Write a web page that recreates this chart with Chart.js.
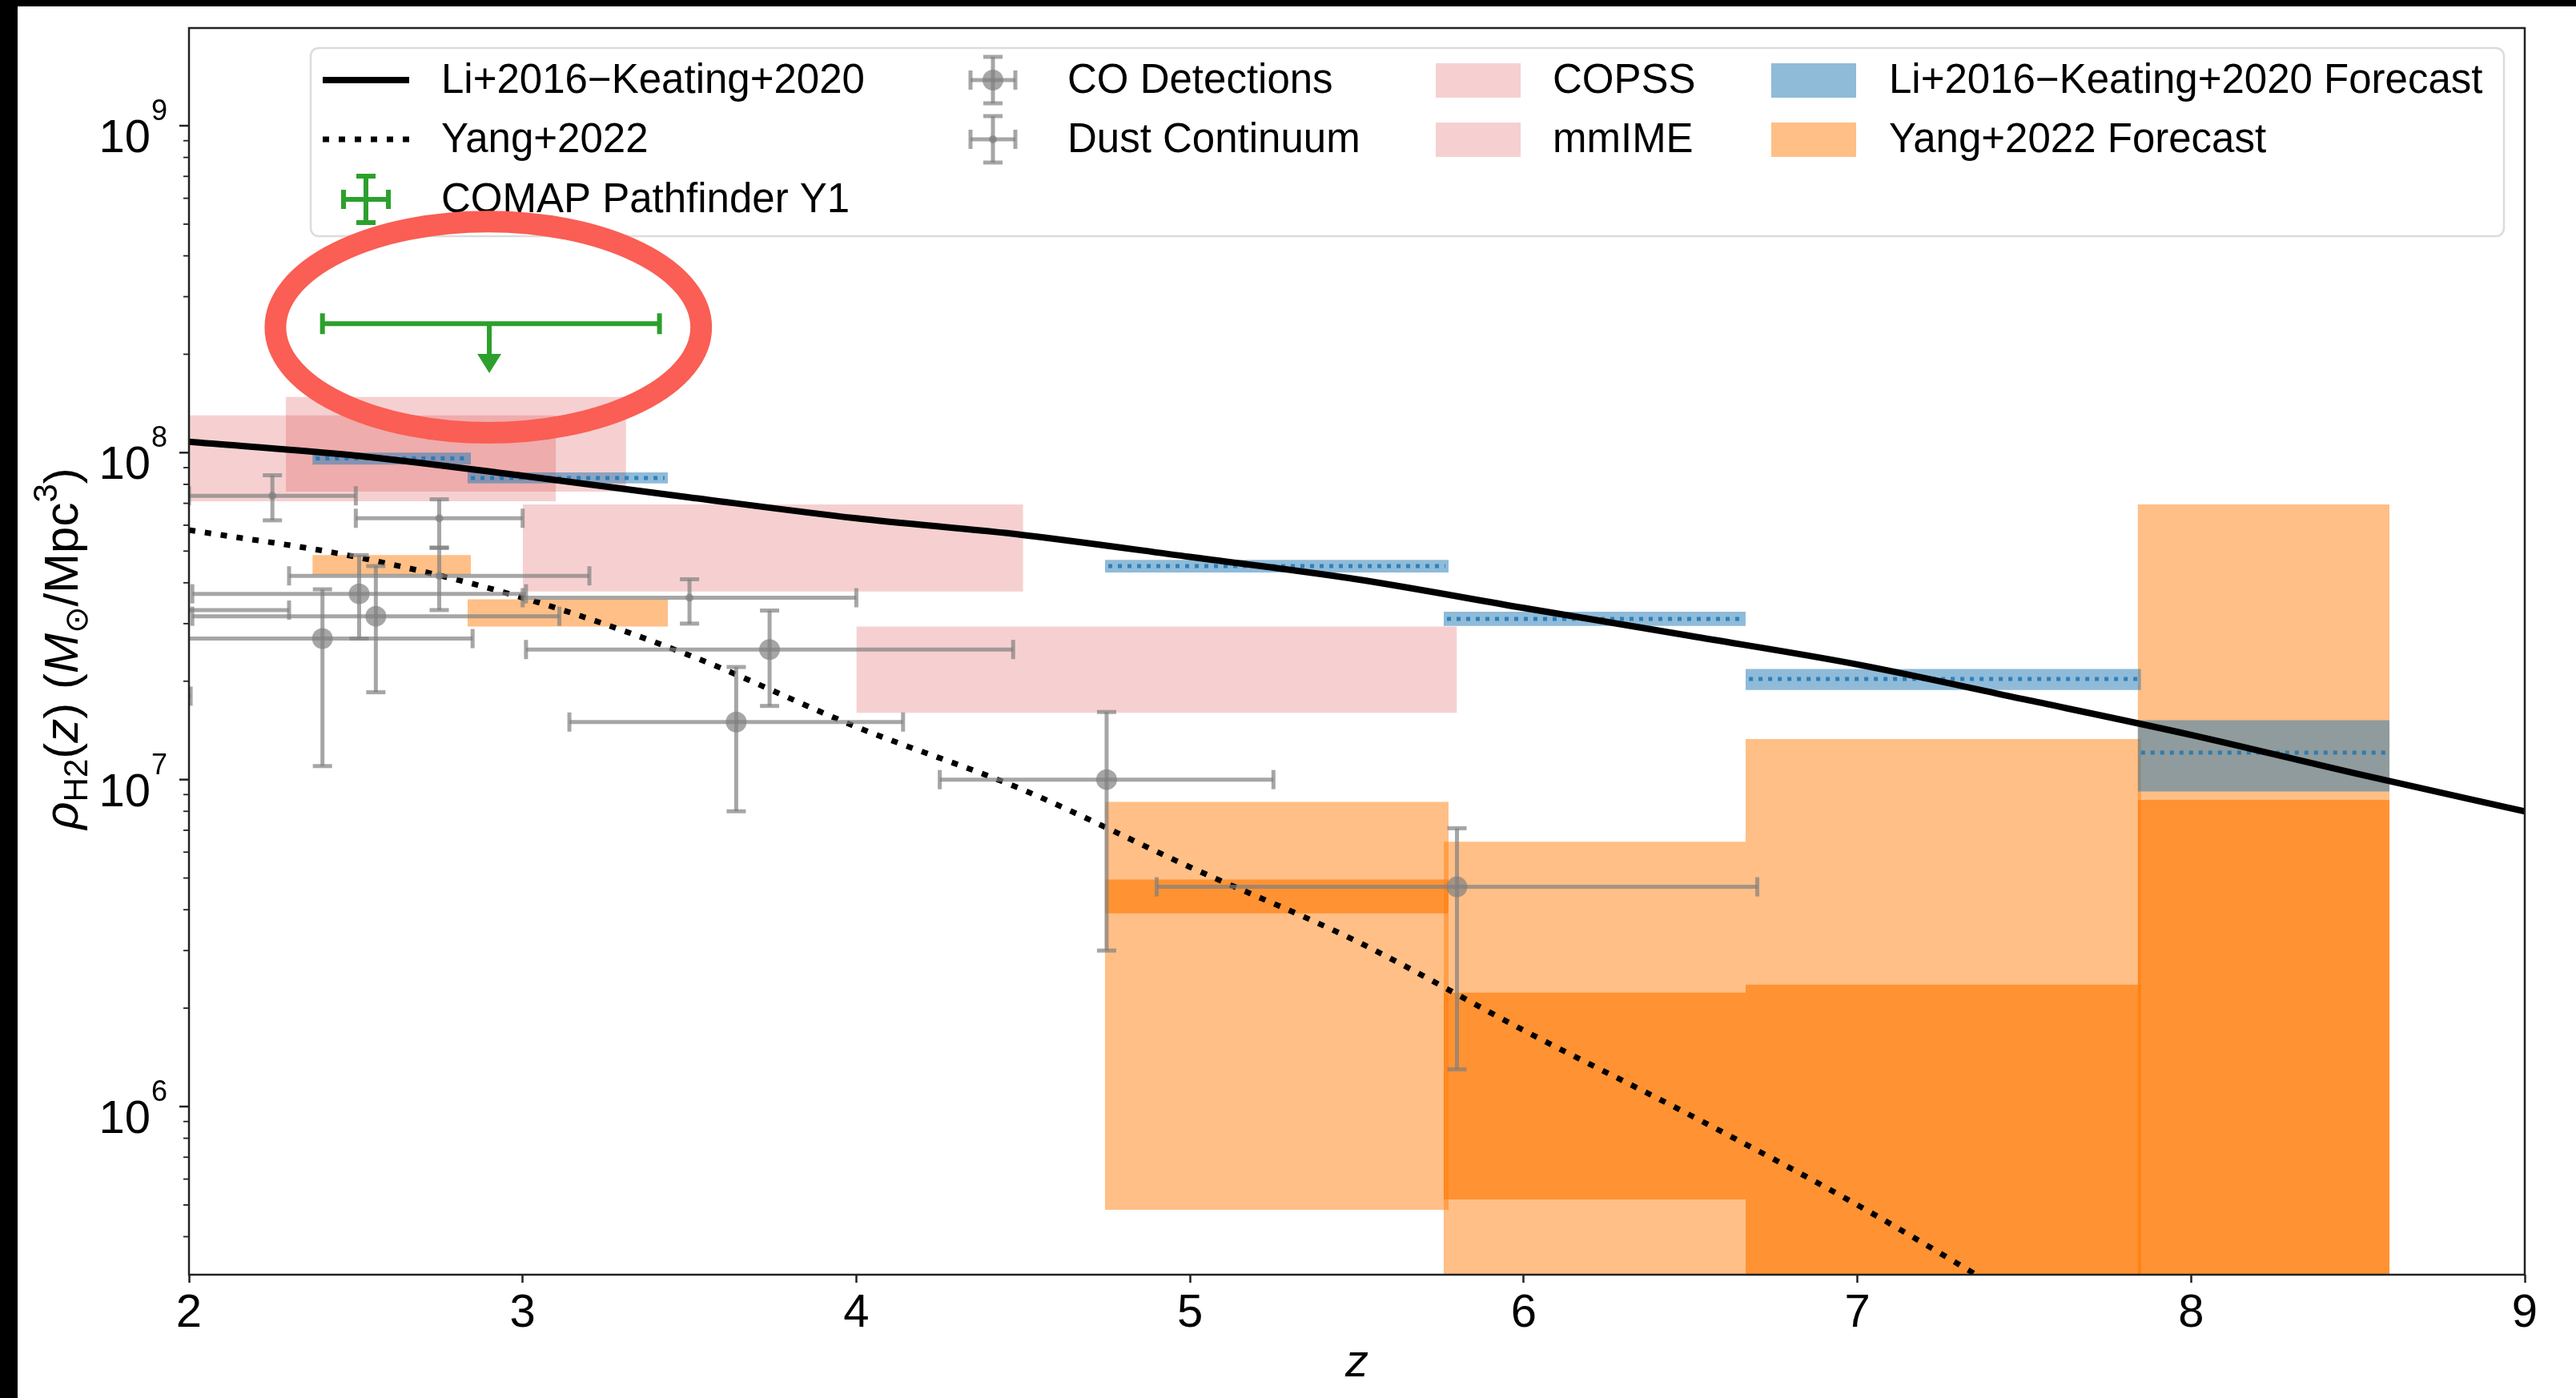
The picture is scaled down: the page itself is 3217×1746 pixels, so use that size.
<!DOCTYPE html>
<html>
<head>
<meta charset="utf-8">
<script src="https://cdn.jsdelivr.net/npm/chart.js@4.4.0/dist/chart.umd.min.js"></script>
<style>
  html, body { margin: 0; padding: 0; background: #000; }
  #wrap { position: absolute; left: 22px; top: 8px; width: 3195px; height: 1738px; background: #fff; }
</style>
</head>
<body>
<div id="wrap"><canvas id="chart"></canvas></div>
<script>
// model curves
const curveZ = [2.0, 2.5, 3.0, 3.5, 4.0, 4.5, 5.0, 5.5, 6.0, 6.5, 7.0, 7.5, 8.0, 8.5, 9.0];
const liKeating = [1.08e8, 9.8e7, 8.5e7, 7.3e7, 6.3e7, 5.6e7, 4.8e7, 4.1e7, 3.35e7, 2.75e7, 2.25e7, 1.76e7, 1.37e7, 1.04e7, 8.0e6];
const yangZ = [2.0, 2.5, 3.0, 3.5, 4.0, 4.5, 5.0, 5.5, 6.0, 6.5, 7.0, 7.5];
const yang2022 = [5.8e7, 4.8e7, 3.6e7, 2.4e7, 1.45e7, 9.3e6, 5.4e6, 3.2e6, 1.71e6, 9.4e5, 5.0e5, 2.5e5];

// COMAP Pathfinder Y1 upper limit
const comapZ = [2.9];
const comapZRange = [[2.4, 3.41]];
const comapRho = [2.48e8];
const comapArrowTo = [1.75e8];

// CO detections
const coZ = [2.40, 2.51, 2.56, 3.64, 3.74, 4.75, 5.80];
const coZRange = [[1.95, 2.85], [2.01, 3.01], [2.01, 3.11], [3.14, 4.14], [3.01, 4.47], [4.25, 5.25], [4.90, 6.70]];
const coRho = [2.7e7, 3.7e7, 3.16e7, 1.5e7, 2.5e7, 1.0e7, 4.7e6];
const coRhoRange = [[1.1e7, 3.82e7], [2.7e7, 4.86e7], [1.85e7, 4.5e7], [8.0e6, 2.21e7], [1.68e7, 3.29e7], [3.0e6, 1.61e7], [1.3e6, 7.1e6]];

// dust continuum
const dustZ = [1.5, 1.8, 2.25, 2.75, 2.75, 3.5];
const dustZRange = [[1.0, 2.005], [1.3, 2.3], [2.0, 2.5], [2.5, 3.0], [2.3, 3.2], [3.0, 4.0]];
const dustRho = [1.8e7, 3.3e7, 7.38e7, 6.3e7, 4.2e7, 3.6e7];
const dustRhoRange = [[1.7e7, 1.9e7], [3.1e7, 3.5e7], [6.21e7, 8.53e7], [5.12e7, 7.2e7], [3.3e7, 5.12e7], [3.0e7, 4.1e7]];

// COPSS / mmIME constraints
const copssZ = [[2.29, 3.31]];
const copssRho = [[7.6e7, 1.48e8]];
const mmimeZ = [[2.0, 3.1], [3.0, 4.5], [4.0, 5.8]];
const mmimeRho = [[7.1e7, 1.3e8], [3.76e7, 6.95e7], [1.6e7, 2.94e7]];

// forecasts
const forecastZ = [[2.37, 2.845], [2.835, 3.435], [4.745, 5.775], [5.76, 6.665], [6.665, 7.85], [7.84, 8.595]];
const liForecast = [[9.2e7, 1.0e8], [8.05e7, 8.7e7], [4.3e7, 4.7e7], [2.95e7, 3.26e7], [1.88e7, 2.18e7], [9.2e6, 1.52e7]];
const liForecastMid = [9.6e7, 8.37e7, 4.5e7, 3.1e7, 2.03e7, 1.21e7];
const yangForecastOuter = [[4.24e7, 4.86e7], [2.94e7, 3.56e7], [4.83e5, 8.55e6], [1e5, 6.46e6], [1e5, 1.33e7], [1e5, 6.95e7]];
const yangForecastInner = [null, null, [3.9e6, 4.95e6], [5.2e5, 2.23e6], [1e5, 2.36e6], [1e5, 8.67e6]];

const xTicks = [2, 3, 4, 5, 6, 7, 8, 9];
const yExponents = [6, 7, 8, 9];

// circled annotation (z centre, half width in z, rho bottom/top)
const ring = { z: 2.897, dz: 0.638, lo: 1.15e8, hi: 5.09e8 };

const FONT = '"Liberation Sans", Arial, sans-serif';
const PINK = 'rgba(214,39,40,0.22)';
const BLUE = 'rgba(31,119,180,0.5)';
const BLUE_DARK = 'rgba(31,119,180,0.85)';
const ORANGE_LIGHT = 'rgba(255,127,14,0.5)';
const ORANGE_DARK = 'rgba(255,127,14,0.7)';
const GREY = 'rgba(128,128,128,0.7)';
const GREEN = '#2ca02c';

function boxDataset(zr, rr, color, order) {
  return {
    type: 'line',
    data: [{ x: zr[0], y: rr[1] }, { x: zr[1], y: rr[1] }],
    fill: { value: rr[0] },
    backgroundColor: color,
    borderColor: 'rgba(0,0,0,0)',
    borderWidth: 0,
    pointRadius: 0,
    tension: 0,
    order: order
  };
}

const datasets = [];
copssZ.forEach((zr, i) => datasets.push(boxDataset(zr, copssRho[i], PINK, 100)));
mmimeZ.forEach((zr, i) => datasets.push(boxDataset(zr, mmimeRho[i], PINK, 100)));
forecastZ.forEach((zr, i) => {
  datasets.push(boxDataset(zr, yangForecastOuter[i], ORANGE_LIGHT, 90));
  if (yangForecastInner[i]) datasets.push(boxDataset(zr, yangForecastInner[i], ORANGE_DARK, 85));
  datasets.push(boxDataset(zr, liForecast[i], BLUE, 80));
  datasets.push({
    type: 'line',
    data: [{ x: zr[0] + 0.01, y: liForecastMid[i] }, { x: zr[1] - 0.01, y: liForecastMid[i] }],
    borderColor: BLUE_DARK, borderWidth: 5, borderDash: [5, 7],
    pointRadius: 0, fill: false, order: 75
  });
});

datasets.push({
  type: 'line', label: 'Yang+2022',
  data: yangZ.map((z, i) => ({ x: z, y: yang2022[i] })),
  borderColor: '#000', borderWidth: 7, borderDash: [8, 12],
  pointRadius: 0, fill: false, cubicInterpolationMode: 'monotone', clip: 0, order: 30
});
datasets.push({
  type: 'line', label: 'Li+2016−Keating+2020',
  data: curveZ.map((z, i) => ({ x: z, y: liKeating[i] })),
  borderColor: '#000', borderWidth: 8,
  pointRadius: 0, fill: false, cubicInterpolationMode: 'monotone', clip: 0, order: 25
});
datasets.push({
  type: 'scatter', label: 'Dust Continuum',
  data: dustZ.map((z, i) => ({ x: z, y: dustRho[i] })),
  pointRadius: 5, backgroundColor: GREY, borderColor: 'rgba(0,0,0,0)', borderWidth: 0,
  errZ: dustZRange, errRho: dustRhoRange, errColor: GREY, errWidth: 5, errCap: 12, order: 20
});
datasets.push({
  type: 'scatter', label: 'CO Detections',
  data: coZ.map((z, i) => ({ x: z, y: coRho[i] })),
  pointRadius: 13, backgroundColor: GREY, borderColor: 'rgba(0,0,0,0)', borderWidth: 0,
  errZ: coZRange, errRho: coRhoRange, errColor: GREY, errWidth: 5, errCap: 12, order: 15
});
datasets.push({
  type: 'scatter', label: 'COMAP Pathfinder Y1',
  data: comapZ.map((z, i) => ({ x: z, y: comapRho[i] })),
  pointRadius: 0,
  errZ: comapZRange, limitTo: comapArrowTo, errColor: GREEN, errWidth: 6, errCap: 13, order: 10
});

function seg(ctx, x0, y0, x1, y1) {
  ctx.beginPath(); ctx.moveTo(x0, y0); ctx.lineTo(x1, y1); ctx.stroke();
}

const errorBars = {
  id: 'errorBars',
  afterDatasetDraw(chart, args) {
    const ds = chart.data.datasets[args.index];
    if (!ds.errZ) return;
    const { ctx, chartArea: a, scales: { x, y } } = chart;
    const cap = ds.errCap;
    ctx.save();
    ctx.beginPath(); ctx.rect(a.left, a.top, a.width, a.height); ctx.clip();
    ctx.strokeStyle = ds.errColor; ctx.fillStyle = ds.errColor; ctx.lineWidth = ds.errWidth;
    ds.data.forEach((p, i) => {
      const px = x.getPixelForValue(p.x), py = y.getPixelForValue(p.y);
      const zr = ds.errZ[i];
      const x0 = x.getPixelForValue(zr[0]), x1 = x.getPixelForValue(zr[1]);
      seg(ctx, x0, py, x1, py);
      seg(ctx, x0, py - cap, x0, py + cap);
      seg(ctx, x1, py - cap, x1, py + cap);
      if (ds.errRho) {
        const y0 = y.getPixelForValue(ds.errRho[i][0]), y1 = y.getPixelForValue(ds.errRho[i][1]);
        seg(ctx, px, y0, px, y1);
        seg(ctx, px - cap, y0, px + cap, y0);
        seg(ctx, px - cap, y1, px + cap, y1);
      }
      if (ds.limitTo) {
        const ty = y.getPixelForValue(ds.limitTo[i]);
        seg(ctx, px, py, px, ty - 18);
        ctx.beginPath();
        ctx.moveTo(px - 15, ty - 24); ctx.lineTo(px + 15, ty - 24); ctx.lineTo(px, ty);
        ctx.closePath(); ctx.fill();
      }
    });
    ctx.restore();
  }
};

function drawRich(ctx, parts) {
  let w = 0;
  parts.forEach(p => { ctx.font = p.f; p.w = ctx.measureText(p.t).width; w += p.w; });
  let cx = -w / 2;
  parts.forEach(p => { ctx.font = p.f; ctx.fillText(p.t, cx, p.dy); cx += p.w; });
}

const decor = {
  id: 'decor',
  afterDatasetsDraw(chart) {
    const { ctx, chartArea: a, scales: { y } } = chart;
    ctx.save();
    ctx.strokeStyle = '#222';
    ctx.lineWidth = 2.5;
    ctx.strokeRect(a.left, a.top, a.width, a.height);
    // y ticks (major + minor)
    ctx.fillStyle = '#000';
    for (let e = 5; e <= 9; e++) {
      for (let k = 1; k <= 9; k++) {
        const v = k * Math.pow(10, e);
        if (v < y.min || v > y.max) continue;
        const py = y.getPixelForValue(v);
        ctx.lineWidth = k === 1 ? 2.5 : 1.8;
        seg(ctx, a.left - (k === 1 ? 12 : 7), py, a.left, py);
      }
    }
    yExponents.forEach(e => {
      const py = y.getPixelForValue(Math.pow(10, e));
      ctx.textBaseline = 'alphabetic';
      ctx.textAlign = 'right';
      ctx.font = '58px ' + FONT;
      ctx.fillText('10', a.left - 48, py + 33);
      ctx.textAlign = 'left';
      ctx.font = '36px ' + FONT;
      ctx.fillText(String(e), a.left - 47, py - 7);
    });
    // y axis title
    ctx.save();
    ctx.translate(57, 802);
    ctx.rotate(-Math.PI / 2);
    ctx.textAlign = 'left';
    ctx.textBaseline = 'alphabetic';
    const big = '60px ' + FONT, it = 'italic 60px ' + FONT, sm = '42px ' + FONT;
    drawRich(ctx, [
      { t: 'ρ', f: it, dy: 18 },
      { t: 'H2', f: sm, dy: 30 },
      { t: '(', f: big, dy: 18 },
      { t: 'z', f: it, dy: 18 },
      { t: ') (', f: big, dy: 18 },
      { t: 'M', f: it, dy: 18 },
      { t: '⊙', f: '40px "DejaVu Sans"', dy: 30 },
      { t: '/Mpc', f: big, dy: 18 },
      { t: '3', f: sm, dy: -8 },
      { t: ')', f: big, dy: 18 }
    ]);
    ctx.restore();
    ctx.restore();
  },
  afterDraw(chart) {
    const { ctx, chartArea: a, scales: { x, y } } = chart;
    const L = a.left, T = a.top;
    ctx.save();
    // legend frame
    const bx = L + 152, by = T + 25, bw = (a.right - 26) - bx, bh = 235, r = 10;
    ctx.beginPath();
    ctx.roundRect(bx, by, bw, bh, r);
    ctx.fillStyle = 'rgba(255,255,255,0.85)';
    ctx.fill();
    ctx.strokeStyle = '#dcdcdc';
    ctx.lineWidth = 2.5;
    ctx.stroke();
    const rows = [T + 65, T + 139, T + 214];
    // col 1 handles
    ctx.strokeStyle = '#000';
    ctx.lineWidth = 8;
    seg(ctx, L + 167, rows[0], L + 275, rows[0]);
    ctx.lineWidth = 7;
    ctx.setLineDash([8, 12]);
    seg(ctx, L + 167, rows[1], L + 275, rows[1]);
    ctx.setLineDash([]);
    const cross = (cx, cy, col, lw, cap, rad) => {
      ctx.strokeStyle = col; ctx.fillStyle = col; ctx.lineWidth = lw;
      seg(ctx, cx - 28, cy, cx + 28, cy);
      seg(ctx, cx - 28, cy - cap, cx - 28, cy + cap);
      seg(ctx, cx + 28, cy - cap, cx + 28, cy + cap);
      seg(ctx, cx, cy - 29, cx, cy + 29);
      seg(ctx, cx - cap, cy - 29, cx + cap, cy - 29);
      seg(ctx, cx - cap, cy + 29, cx + cap, cy + 29);
      if (rad) { ctx.beginPath(); ctx.arc(cx, cy, rad, 0, Math.PI * 2); ctx.fill(); }
    };
    cross(L + 221, rows[2], GREEN, 6, 12, 0);
    cross(L + 1004, rows[0], GREY, 5, 12, 13);
    cross(L + 1004, rows[1], GREY, 5, 12, 5);
    const patch = (x0, cy, col) => { ctx.fillStyle = col; ctx.fillRect(x0, cy - 21, 106, 43); };
    patch(L + 1557, rows[0], PINK);
    patch(L + 1557, rows[1], PINK);
    patch(L + 1976, rows[0], BLUE);
    patch(L + 1976, rows[1], ORANGE_LIGHT);
    ctx.fillStyle = '#000';
    ctx.font = '51px ' + FONT;
    ctx.textAlign = 'left';
    ctx.textBaseline = 'middle';
    const labels = [
      [L + 315, rows[0], 'Li+2016−Keating+2020'], [L + 315, rows[1], 'Yang+2022'], [L + 315, rows[2], 'COMAP Pathfinder Y1'],
      [L + 1097, rows[0], 'CO Detections'], [L + 1097, rows[1], 'Dust Continuum'],
      [L + 1703, rows[0], 'COPSS'], [L + 1703, rows[1], 'mmIME'],
      [L + 2123, rows[0], 'Li+2016−Keating+2020 Forecast'], [L + 2123, rows[1], 'Yang+2022 Forecast']
    ];
    labels.forEach(l => ctx.fillText(l[2], l[0], l[1] + 2));
    // red ring annotation
    const cx = x.getPixelForValue(ring.z);
    const rx = x.getPixelForValue(ring.z + ring.dz) - cx;
    const top = y.getPixelForValue(ring.hi), bot = y.getPixelForValue(ring.lo);
    ctx.beginPath();
    ctx.ellipse(cx, (top + bot) / 2, rx, (bot - top) / 2, 0, 0, Math.PI * 2);
    ctx.strokeStyle = 'rgb(250,94,84)';
    ctx.lineWidth = 27;
    ctx.stroke();
    ctx.restore();
  }
};

new Chart(document.getElementById('chart'), {
  type: 'line',
  data: { datasets: datasets },
  options: {
    responsive: true,
    maintainAspectRatio: false,
    devicePixelRatio: 1,
    animation: false,
    events: [],
    layout: { padding: { top: 27, right: 64, bottom: 0, left: 0 } },
    plugins: { legend: { display: false }, tooltip: { enabled: false } },
    scales: {
      x: {
        type: 'linear', min: 2, max: 9,
        afterBuildTicks: (s) => { s.ticks = xTicks.map(v => ({ value: v })); },
        ticks: { font: { size: 58, family: FONT }, color: '#000', padding: 4 },
        grid: { display: true, drawOnChartArea: false, drawTicks: true, tickLength: 10, tickWidth: 2.5, tickColor: '#222' },
        border: { display: false },
        title: { display: true, text: 'z', color: '#000', font: { size: 58, family: FONT, style: 'italic' }, padding: { top: 0, bottom: 8 } },
        afterFit: (s) => { s.height = 154; }
      },
      y: {
        type: 'logarithmic', min: 3.06e5, max: 1.99e9,
        ticks: { display: false },
        grid: { display: false },
        border: { display: false },
        afterFit: (s) => { s.width = 214; }
      }
    }
  },
  plugins: [errorBars, decor]
});
</script>
</body>
</html>
